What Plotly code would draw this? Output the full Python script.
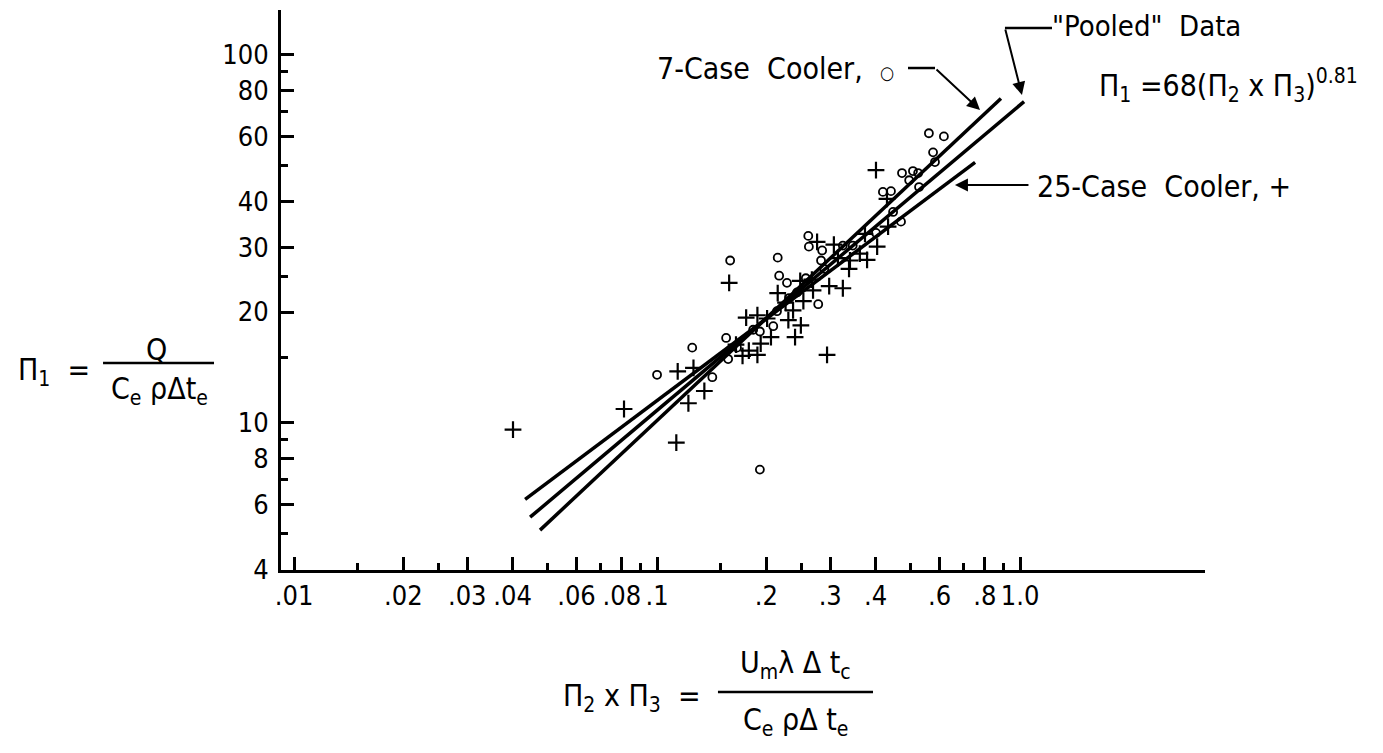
import plotly.graph_objects as go

# ---- data ----
case7_x = [0.561, 0.617, 0.576, 0.583, 0.473, 0.507, 0.524, 0.495, 0.527, 0.419,
           0.441, 0.470, 0.401, 0.261, 0.262, 0.285, 0.283, 0.325, 0.215, 0.159,
           0.217, 0.228, 0.257, 0.231, 0.278, 0.214, 0.209, 0.192, 0.155, 0.125,
           0.157, 0.166, 0.100, 0.142, 0.192, 0.184, 0.243, 0.289, 0.346, 0.447]
case7_y = [61.2, 60.0, 54.3, 51.1, 47.7, 48.3, 47.7, 45.6, 43.7, 42.4,
           42.6, 35.2, 32.8, 32.2, 30.1, 29.4, 27.6, 30.3, 28.1, 27.6,
           25.1, 24.0, 24.7, 21.8, 21.0, 20.1, 18.3, 17.7, 17.0, 16.0,
           14.9, 16.0, 13.5, 13.3, 7.46, 17.9, 22.6, 26.2, 30.3, 37.4]

case25_x = [0.0401, 0.0811, 0.113, 0.114, 0.126, 0.122, 0.135, 0.158, 0.172, 0.179,
            0.189, 0.193, 0.176, 0.189, 0.201, 0.206, 0.230, 0.240, 0.249, 0.237,
            0.253, 0.215, 0.248, 0.269, 0.298, 0.325, 0.294, 0.276, 0.307, 0.338,
            0.362, 0.379, 0.404, 0.433, 0.401, 0.430, 0.165, 0.226, 0.267, 0.315,
            0.374, 0.340]
case25_y = [9.58, 10.9, 8.83, 13.8, 14.1, 11.3, 12.2, 24.0, 15.2, 15.7,
            15.3, 16.4, 19.3, 19.6, 19.2, 17.1, 19.0, 17.1, 18.4, 20.2,
            21.4, 22.5, 24.3, 22.9, 23.5, 23.2, 15.3, 31.0, 30.5, 26.2,
            28.8, 27.7, 30.1, 34.1, 48.6, 40.6, 16.3, 21.2, 24.5, 28.0,
            32.6, 27.6]

fit7_x = [0.0476, 0.886]
fit7_y = [5.11, 76.1]
pooled_x = [0.0447, 1.026]
pooled_y = [5.54, 74.6]
fit25_x = [0.0433, 0.752]
fit25_y = [6.19, 51.0]

x_tickvals = [0.01, 0.02, 0.03, 0.04, 0.06, 0.08, 0.1, 0.2, 0.3, 0.4, 0.6, 0.8, 1.0]
x_ticktext = [".01", ".02", ".03", ".04", ".06", ".08", ".1", ".2", ".3", ".4", ".6", ".8", "1.0"]
x_minor = [0.015, 0.025, 0.05, 0.07, 0.09, 0.15, 0.25, 0.5, 0.7, 0.9]
y_tickvals = [4, 6, 8, 10, 20, 30, 40, 60, 80, 100]
y_ticktext = ["4", "6", "8", "10", "20", "30", "40", "60", "80", "100"]
y_minor = [5, 7, 9, 15, 25, 50, 70, 90]

FONT = "Liberation Sans Narrow, DejaVu Sans Condensed, Roboto Condensed, Arial Narrow, sans-serif"

fig = go.Figure()
for lx, ly in [(fit7_x, fit7_y), (pooled_x, pooled_y), (fit25_x, fit25_y)]:
    fig.add_trace(go.Scatter(x=lx, y=ly, mode="lines",
                             line=dict(color="black", width=3.5), showlegend=False))
fig.add_trace(go.Scatter(x=case7_x, y=case7_y, mode="markers", showlegend=False,
                         marker=dict(symbol="circle-open", size=8, color="black",
                                     line=dict(width=1.8, color="black"))))
fig.add_trace(go.Scatter(x=case25_x, y=case25_y, mode="markers", showlegend=False,
                         marker=dict(symbol="cross-thin-open", size=12, color="black",
                                     line=dict(width=2.2, color="black"))))

axis_common = dict(type="log", showgrid=False, zeroline=False, showline=True,
                   linecolor="black", linewidth=3, ticks="inside", ticklen=13,
                   tickwidth=2.5, tickcolor="black", automargin=False, tickangle=0,
                   tickfont=dict(family=FONT, size=27, color="black"))
fig.update_xaxes(**axis_common, range=[-2.036, 0.5096], tickmode="array",
                 tickvals=x_tickvals, ticktext=x_ticktext,
                 minor=dict(ticks="inside", ticklen=7, tickwidth=2.5, tickcolor="black",
                            tickmode="array", tickvals=x_minor))
fig.update_yaxes(**axis_common, range=[0.600, 2.1216], tickmode="array",
                 tickvals=y_tickvals, ticktext=y_ticktext, ticklabelstandoff=4,
                 minor=dict(ticks="inside", ticklen=7, tickwidth=2.5, tickcolor="black",
                            tickmode="array", tickvals=y_minor))

tf = dict(family=FONT, size=30, color="black")
ann = [
    dict(x=0.4048, y=0.8964, xanchor="left", yanchor="middle",
         text="7-Case  Cooler,  <span style='font-size:18px'>○</span>"),
    dict(x=0.8323, y=0.972, xanchor="left", yanchor="middle", text="\"Pooled\"  Data",
         font=dict(family=FONT, size=29, color="black")),
    dict(x=0.8831, y=0.866, xanchor="left", yanchor="middle",
         text="Π<sub>1</sub> =68(Π<sub>2</sub> x Π<sub>3</sub>)<sup>0.81</sup>"),
    dict(x=0.816, y=0.6857, xanchor="left", yanchor="middle", text="25-Case  Cooler, +"),
    dict(x=-0.2870, y=0.3536, xanchor="left", yanchor="middle", text="Π<sub>1</sub>  ="),
    dict(x=-0.1342, y=0.393, xanchor="center", yanchor="middle", text="Q"),
    dict(x=-0.132, y=0.3214, xanchor="center", yanchor="middle",
         text="C<sub>e</sub> ρΔt<sub>e</sub>"),
    dict(x=0.4567, y=-0.2268, xanchor="right", yanchor="middle",
         text="Π<sub>2</sub> x Π<sub>3</sub>  ="),
    dict(x=0.5563, y=-0.1696, xanchor="center", yanchor="middle",
         text="U<sub>m</sub>λ Δ t<sub>c</sub>"),
    dict(x=0.5563, y=-0.2714, xanchor="center", yanchor="middle",
         text="C<sub>e</sub> ρΔ t<sub>e</sub>"),
]
for a in ann:
    a.setdefault("font", tf)
    fig.add_annotation(xref="paper", yref="paper", showarrow=False, **a)

arrows = [
    dict(x=0.7565, y=0.8214, ax=-45, ay=-42),
    dict(x=0.8019, y=0.8482, ax=-17, ay=-67),
    dict(x=0.7294, y=0.6875, ax=75, ay=0),
]
for a in arrows:
    fig.add_annotation(xref="paper", yref="paper", text="", showarrow=True,
                       arrowhead=2, arrowsize=1.3, arrowwidth=2, arrowcolor="black", **a)

segs = [
    (0.6786, 0.8964, 0.7078, 0.8964),
    (0.8344, 0.9679, 0.7835, 0.9679),
    (-0.1926, 0.3696, -0.0725, 0.3696),
    (0.4729, -0.2179, 0.6407, -0.2179),
]
for x0, y0, x1, y1 in segs:
    fig.add_shape(type="line", xref="paper", yref="paper", x0=x0, y0=y0, x1=x1, y1=y1,
                  line=dict(color="black", width=2.5))

# page body has an 8px margin; size/margins chosen so the plot area lands where the reference has it
fig.update_layout(width=1375, height=745, plot_bgcolor="white", paper_bgcolor="white",
                  margin=dict(l=273, r=178, t=2, b=183), showlegend=False)
fig.write_html("out.html")
